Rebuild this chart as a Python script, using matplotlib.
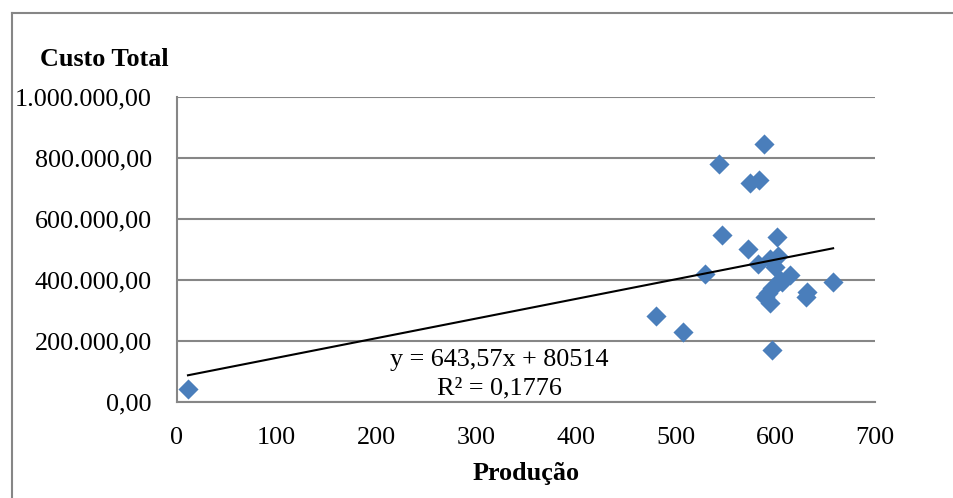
import numpy as np
import matplotlib.pyplot as plt
from matplotlib.ticker import FuncFormatter
from matplotlib.lines import Line2D

plt.rcParams['font.family'] = ['Liberation Serif', 'DejaVu Serif']

# produção x custo total
producao = [11, 480, 507, 530, 544, 547, 573, 575, 584, 589,
            583, 595, 603, 602, 600, 615, 607, 597, 593, 595,
            632, 631, 658, 597, 605, 590]
custo = [43000, 283000, 230000, 420000, 780000, 548000, 502000, 718000, 728000, 846000,
         452000, 470000, 480000, 540000, 443000, 416000, 392000, 375000, 357000, 325000,
         360000, 344000, 392000, 172000, 400000, 345000]

# linha de tendência (Excel)
a, b = 643.57, 80514
r2 = 0.1776

x_ticks = [0, 100, 200, 300, 400, 500, 600, 700]
y_ticks = [0, 200000, 400000, 600000, 800000, 1000000]

fs = 18.8


def br_fmt(v, pos):
    s = f"{v:,.2f}"
    return s.replace(',', 'X').replace('.', ',').replace('X', '.')


fig = plt.figure(figsize=(9.54, 4.98), dpi=100)
ax = fig.add_axes([177/954, 96/498, 698/954, 305/498])

ax.scatter(producao, custo, marker='D', s=105, color='#4A7EBB', zorder=3, linewidths=0)

xt = np.array([min(producao), max(producao)])
ax.plot(xt, a*xt + b, color='black', lw=1.5, zorder=4)

ax.set_xlim(0, 700)
ax.set_ylim(0, 1000000)
ax.set_xticks(x_ticks)
ax.set_yticks(y_ticks)
ax.yaxis.set_major_formatter(FuncFormatter(br_fmt))
ax.tick_params(length=0, labelsize=fs)
ax.tick_params(axis='x', pad=18)
ax.tick_params(axis='y', pad=18)

ax.grid(axis='y', color='#868686', lw=1.5)
ax.set_axisbelow(True)
for s in ['top', 'right']:
    ax.spines[s].set_visible(False)
for s in ['left', 'bottom']:
    ax.spines[s].set_color('#868686')
    ax.spines[s].set_linewidth(1.5)

ax.text(323, 138000, f"y = {a:.2f}x + {b:.0f}".replace('.', ','), ha='center', va='center', fontsize=fs)
ax.text(323, 46000, f"R² = {r2:.4f}".replace('.', ','), ha='center', va='center', fontsize=fs)

fig.text(104/954, 1 - 59/498, 'Custo Total', ha='center', va='center', fontsize=fs, fontweight='bold')
fig.text(526/954, 1 - 473/498, 'Produção', ha='center', va='center', fontsize=fs, fontweight='bold')

# moldura do gráfico
fig.add_artist(Line2D([12/954, 1], [1 - 13/498, 1 - 13/498], color='#868686', lw=1.5))
fig.add_artist(Line2D([12/954, 12/954], [0, 1 - 13/498], color='#868686', lw=1.5))

fig.savefig('out.png', dpi=100)
